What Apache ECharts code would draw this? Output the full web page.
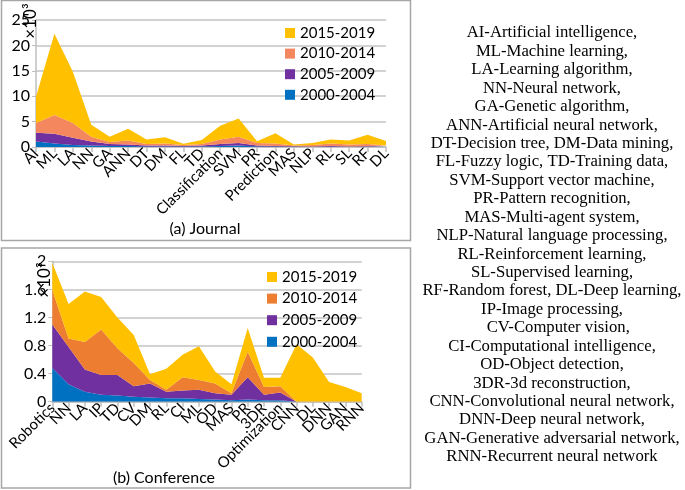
<!DOCTYPE html>
<html>
<head>
<meta charset="utf-8">
<script src="https://cdn.jsdelivr.net/npm/echarts@6/dist/echarts.min.js"></script>
<style>html,body{margin:0;padding:0;background:#fff;}#c{width:685px;height:490px;}</style>
</head>
<body>
<div id="c"></div>
<script>
// ---------- data ----------
const periods = ['2000-2004', '2005-2009', '2010-2014', '2015-2019'];

const journalCats = ['AI','ML','LA','NN','GA','ANN','DT','DM','FL','TD','Classification','SVM','PR','Prediction','MAS','NLP','RL','SL','RF','DL'];
// per-period values (thousands), stacked in the chart
const journal2000 = [1.1,0.7,0.4,0.3,0.2,0.2,0.1,0.1,0.1,0.1,0.2,0.3,0.1,0.1,0.05,0.05,0.05,0.05,0.05,0.02];
const journal2005 = [1.7,1.9,1.4,0.8,0.4,0.3,0.2,0.2,0.1,0.2,0.4,0.5,0.2,0.1,0.1,0.05,0.15,0.05,0.1,0.03];
const journal2010 = [1.9,3.7,2.9,0.9,0.4,0.8,0.3,0.4,0.2,0.3,0.9,1.2,0.5,0.5,0.15,0.3,0.5,0.4,0.45,0.25];
const journal2015 = [5.2,16.0,10.1,2.4,1.0,2.3,0.9,1.2,0.25,0.8,2.7,3.6,0.35,2.0,0.2,0.4,0.8,0.8,1.8,0.9];

const confCats = ['Robotics','NN','LA','IP','TD','CV','DM','RL','CI','ML','OD','MAS','PR','3DR','Optimization','CNN','DL','DNN','GAN','RNN'];
const conf2000 = [0.48,0.25,0.14,0.10,0.09,0.07,0.06,0.05,0.05,0.04,0.03,0.02,0.03,0.02,0.02,0,0,0,0,0];
const conf2005 = [0.62,0.53,0.32,0.28,0.29,0.15,0.20,0.09,0.11,0.13,0.09,0.08,0.32,0.08,0.11,0,0,0,0,0];
const conf2010 = [0.49,0.12,0.39,0.65,0.38,0.33,0.05,0.03,0.19,0.14,0.14,0.02,0.36,0.11,0.09,0,0,0,0,0];
const conf2015 = [0.39,0.49,0.72,0.46,0.44,0.40,0.08,0.30,0.32,0.48,0.17,0.13,0.34,0.13,0.12,0.82,0.63,0.28,0.21,0.12];

const journalTicks = [0,5,10,15,20,25];
const confTicks = [0,0.4,0.8,1.2,1.6,2];

const glossary = [
 'AI-Artificial intelligence,','ML-Machine learning,','LA-Learning algorithm,','NN-Neural network,',
 'GA-Genetic algorithm,','ANN-Artificial neural network,','DT-Decision tree, DM-Data mining,',
 'FL-Fuzzy logic, TD-Training data,','SVM-Support vector machine,','PR-Pattern recognition,',
 'MAS-Multi-agent system,','NLP-Natural language processing,','RL-Reinforcement learning,',
 'SL-Supervised learning,','RF-Random forest, DL-Deep learning,','IP-Image processing,',
 '   CV-Computer vision,','CI-Computational intelligence,','OD-Object detection,',
 '3DR-3d reconstruction,','CNN-Convolutional neural network,','DNN-Deep neural network,',
 'GAN-Generative adversarial network,','RNN-Recurrent neural network'
];

// ---------- styling ----------
const FONT = 'Lato';
const topColors = ['#0070C0','#7030A0','#F5875F','#FFC000'];
const botColors = ['#0070C0','#7030A0','#ED7D31','#FFC000'];
const gridColor = '#C3C3C3';

function areaSeries(name, data, color, xi, stack) {
  return {
    name: name, type: 'line', stack: stack, xAxisIndex: xi, yAxisIndex: xi,
    data: data, symbol: 'none', showSymbol: false, smooth: false,
    lineStyle: {width: 0, color: color}, itemStyle: {color: color},
    areaStyle: {color: color, opacity: 1}, emphasis: {disabled: true}, z: 2
  };
}

const xAxisCommon = {
  type: 'category', boundaryGap: false,
  axisLine: {lineStyle: {color: '#BFBFBF', width: 1.5}},
  axisTick: {show: true, length: 5, lineStyle: {color: '#BFBFBF', width: 1.5}},
  axisLabel: {rotate: 45, interval: 0, fontSize: 15, color: '#000', fontFamily: FONT, margin: 4}
};
const yAxisCommon = {
  type: 'value', min: 0,
  axisLine: {show: true, lineStyle: {color: '#BFBFBF', width: 1.5}},
  axisTick: {show: true, length: 4, lineStyle: {color: '#BFBFBF'}},
  splitLine: {lineStyle: {color: gridColor, width: 1.5}},
  axisLabel: {fontSize: 16, color: '#000', fontFamily: FONT, margin: 6}
};

const topNames = periods.slice();
const botNames = periods.map(p => p + ' ');

const series = [];
[journal2000, journal2005, journal2010, journal2015].forEach((d, i) => series.push(areaSeries(topNames[i], d, topColors[i], 0, 'j')));
[conf2000, conf2005, conf2010, conf2015].forEach((d, i) => series.push(areaSeries(botNames[i], d, botColors[i], 1, 'c')));

const option = {
  animation: false,
  backgroundColor: '#fff',
  textStyle: {fontFamily: FONT},
  grid: [
    {left: 36, right: 299, top: 20, bottom: 343},
    {left: 52.3, right: 323.3, top: 261.3, bottom: 88.3}
  ],
  xAxis: [
    Object.assign({}, xAxisCommon, {gridIndex: 0, data: journalCats}),
    Object.assign({}, xAxisCommon, {gridIndex: 1, data: confCats})
  ],
  yAxis: [
    Object.assign({}, yAxisCommon, {gridIndex: 0, max: journalTicks[journalTicks.length-1], interval: journalTicks[1]-journalTicks[0]}),
    Object.assign({}, yAxisCommon, {gridIndex: 1, max: confTicks[confTicks.length-1], interval: 0.4,
      axisLabel: Object.assign({}, yAxisCommon.axisLabel, {formatter: v => String(+v.toFixed(1))})})
  ],
  legend: [
    {data: topNames.slice().reverse(), orient: 'vertical', left: 280, top: 20, itemWidth: 10, itemHeight: 10,
     itemGap: 4.6, icon: 'rect', selectedMode: false, textStyle: {fontSize: 15, color: '#000', fontFamily: FONT, lineHeight: 16}},
    {data: botNames.slice().reverse(), orient: 'vertical', left: 262, top: 264, itemWidth: 10, itemHeight: 10,
     itemGap: 5.6, icon: 'rect', selectedMode: false, formatter: n => n.trim(),
     textStyle: {fontSize: 15, color: '#000', fontFamily: FONT, lineHeight: 16}}
  ],
  series: series,
  graphic: [
    {type: 'rect', shape: {x: 1.5, y: 0.5, width: 409, height: 240}, style: {fill: null, stroke: '#A6A6A6', lineWidth: 1.5}, z: 0, silent: true},
    {type: 'rect', shape: {x: 1.5, y: 248, width: 409, height: 240}, style: {fill: null, stroke: '#A6A6A6', lineWidth: 1.5}, z: 0, silent: true},
    {type: 'text', x: 31, y: 21, rotation: Math.PI/2, style: {text: '×10³', font: '17px ' + FONT, fill: '#000', textAlign: 'center', textVerticalAlign: 'middle'}, z: 10},
    {type: 'text', x: 45, y: 280, rotation: Math.PI/2, style: {text: '×10³', font: '17px ' + FONT, fill: '#000', textAlign: 'center', textVerticalAlign: 'middle'}, z: 10},
    {type: 'text', x: 205, y: 229, style: {text: '(a) Journal', font: '16px ' + FONT, fill: '#000', textAlign: 'center', textVerticalAlign: 'middle'}},
    {type: 'text', x: 164, y: 478, style: {text: '(b) Conference', font: '16px ' + FONT, fill: '#000', textAlign: 'center', textVerticalAlign: 'middle'}},
    {type: 'text', x: 552, y: 23.8, style: {text: glossary.join('\n'), font: '16.7px "Liberation Serif"', lineHeight: 18.43, fill: '#000', textAlign: 'center', textVerticalAlign: 'top'}}
  ]
};

const chart = echarts.init(document.getElementById('c'), null, {renderer: 'canvas'});
chart.setOption(option);
</script>
</body>
</html>
